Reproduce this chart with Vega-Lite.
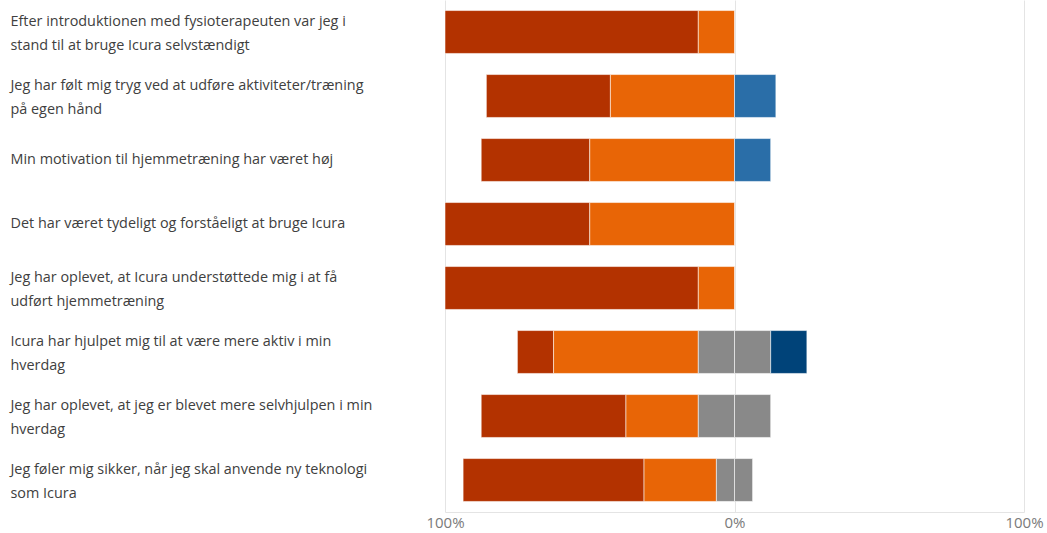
{
  "$schema": "https://vega.github.io/schema/vega-lite/v6.json",
  "width": 579,
  "height": 512,
  "autosize": "none",
  "padding": {"left": 445, "right": 23, "top": 0, "bottom": 21},
  "background": "white",
  "config": {"view": {"stroke": null}, "font": "Open Sans"},
  "data": {
    "values": [
      {"qi": 1, "q": "Efter introduktionen med fysioterapeuten var jeg i|stand til at bruge Icura selvstændigt", "cat": "Helt uenig", "order": 3, "value": -0.875},
      {"qi": 1, "q": "Efter introduktionen med fysioterapeuten var jeg i|stand til at bruge Icura selvstændigt", "cat": "Uenig", "order": 2, "value": -0.125},

      {"qi": 2, "q": "Jeg har følt mig tryg ved at udføre aktiviteter/træning|på egen hånd", "cat": "Helt uenig", "order": 3, "value": -0.4286},
      {"qi": 2, "q": "Jeg har følt mig tryg ved at udføre aktiviteter/træning|på egen hånd", "cat": "Uenig", "order": 2, "value": -0.4286},
      {"qi": 2, "q": "Jeg har følt mig tryg ved at udføre aktiviteter/træning|på egen hånd", "cat": "Enig", "order": 2, "value": 0.1429},

      {"qi": 3, "q": "Min motivation til hjemmetræning har været høj", "cat": "Helt uenig", "order": 3, "value": -0.375},
      {"qi": 3, "q": "Min motivation til hjemmetræning har været høj", "cat": "Uenig", "order": 2, "value": -0.5},
      {"qi": 3, "q": "Min motivation til hjemmetræning har været høj", "cat": "Enig", "order": 2, "value": 0.125},

      {"qi": 4, "q": "Det har været tydeligt og forståeligt at bruge Icura", "cat": "Helt uenig", "order": 3, "value": -0.5},
      {"qi": 4, "q": "Det har været tydeligt og forståeligt at bruge Icura", "cat": "Uenig", "order": 2, "value": -0.5},

      {"qi": 5, "q": "Jeg har oplevet, at Icura understøttede mig i at få|udført hjemmetræning", "cat": "Helt uenig", "order": 3, "value": -0.875},
      {"qi": 5, "q": "Jeg har oplevet, at Icura understøttede mig i at få|udført hjemmetræning", "cat": "Uenig", "order": 2, "value": -0.125},

      {"qi": 6, "q": "Icura har hjulpet mig til at være mere aktiv i min|hverdag", "cat": "Helt uenig", "order": 3, "value": -0.125},
      {"qi": 6, "q": "Icura har hjulpet mig til at være mere aktiv i min|hverdag", "cat": "Uenig", "order": 2, "value": -0.5},
      {"qi": 6, "q": "Icura har hjulpet mig til at være mere aktiv i min|hverdag", "cat": "Hverken enig eller uenig", "order": 1, "value": -0.125},
      {"qi": 6, "q": "Icura har hjulpet mig til at være mere aktiv i min|hverdag", "cat": "Hverken enig eller uenig", "order": 1, "value": 0.125},
      {"qi": 6, "q": "Icura har hjulpet mig til at være mere aktiv i min|hverdag", "cat": "Helt enig", "order": 3, "value": 0.125},

      {"qi": 7, "q": "Jeg har oplevet, at jeg er blevet mere selvhjulpen i min|hverdag", "cat": "Helt uenig", "order": 3, "value": -0.5},
      {"qi": 7, "q": "Jeg har oplevet, at jeg er blevet mere selvhjulpen i min|hverdag", "cat": "Uenig", "order": 2, "value": -0.25},
      {"qi": 7, "q": "Jeg har oplevet, at jeg er blevet mere selvhjulpen i min|hverdag", "cat": "Hverken enig eller uenig", "order": 1, "value": -0.125},
      {"qi": 7, "q": "Jeg har oplevet, at jeg er blevet mere selvhjulpen i min|hverdag", "cat": "Hverken enig eller uenig", "order": 1, "value": 0.125},

      {"qi": 8, "q": "Jeg føler mig sikker, når jeg skal anvende ny teknologi|som Icura", "cat": "Helt uenig", "order": 3, "value": -0.625},
      {"qi": 8, "q": "Jeg føler mig sikker, når jeg skal anvende ny teknologi|som Icura", "cat": "Uenig", "order": 2, "value": -0.25},
      {"qi": 8, "q": "Jeg føler mig sikker, når jeg skal anvende ny teknologi|som Icura", "cat": "Hverken enig eller uenig", "order": 1, "value": -0.0625},
      {"qi": 8, "q": "Jeg føler mig sikker, når jeg skal anvende ny teknologi|som Icura", "cat": "Hverken enig eller uenig", "order": 1, "value": 0.0625}
    ]
  },
  "mark": {"type": "bar", "stroke": "white", "strokeOpacity": 0.55, "strokeWidth": 1},
  "encoding": {
    "y": {
      "field": "q",
      "type": "nominal",
      "sort": {"field": "qi", "op": "min", "order": "ascending"},
      "scale": {"paddingInner": 0.33, "paddingOuter": 0.165},
      "axis": {
        "title": null,
        "ticks": false,
        "domain": false,
        "labelAlign": "left",
        "labelPadding": 435,
        "labelLimit": 0,
        "labelFontSize": 14.4,
        "labelColor": "#404040",
        "labelLineHeight": 24,
        "labelOffset": {"condition": {"test": "indexof(datum.label, '|') >= 0", "value": -10}, "value": 0},
        "labelExpr": "split(datum.label, '|')"
      }
    },
    "x": {
      "field": "value",
      "type": "quantitative",
      "stack": "zero",
      "scale": {"domain": [-1, 1], "nice": false},
      "axis": {
        "title": null,
        "values": [-1, 0, 1],
        "labelExpr": "datum.value == 0 ? '0%' : '100%'",
        "ticks": false,
        "tickSize": 0,
        "labelPadding": 3,
        "labelFontSize": 15,
        "labelColor": "#7a7a7a",
        "domainColor": "#e4e4e4",
        "gridColor": "#e4e4e4",
        "labelFlush": false
      }
    },
    "color": {
      "field": "cat",
      "type": "nominal",
      "legend": null,
      "scale": {
        "domain": ["Helt uenig", "Uenig", "Hverken enig eller uenig", "Enig", "Helt enig"],
        "range": ["#B33200", "#E86506", "#898989", "#2A6EA8", "#004379"]
      }
    },
    "order": {"field": "order", "type": "quantitative"}
  }
}
